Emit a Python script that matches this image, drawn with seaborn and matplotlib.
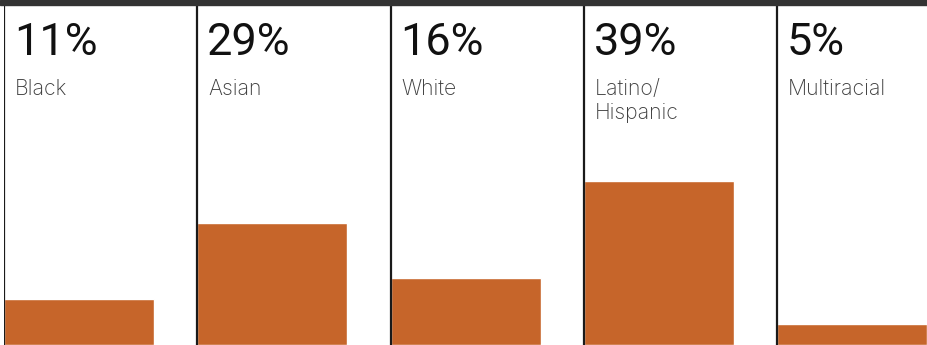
import matplotlib
matplotlib.use("Agg")
import matplotlib.pyplot as plt
import matplotlib.transforms as mtransforms
from matplotlib.patches import Rectangle
import seaborn as sns
import pandas as pd

# ---- data ----
categories = ["Black", "Asian", "White", "Latino/\nHispanic", "Multiracial"]
shares = [11, 29, 16, 39, 5]
value_labels = ["11%", "29%", "16%", "39%", "5%"]

sns.set_theme(style="white")
plt.rcParams["font.family"] = ["Roboto", "DejaVu Sans"]

W, H, DPI = 928, 345, 100
fig = plt.figure(figsize=(W / DPI, H / DPI), dpi=DPI)
fig.patch.set_facecolor("white")

# layout in pixels
left_px, top_px = 4, 5
panel_px = 193.25
bar_px = 150
ax = fig.add_axes([left_px / W, 0, (W - left_px) / W, (H - top_px) / H])

df = pd.DataFrame({"cat": categories, "share": shares})
bar_w = bar_px / panel_px
sns.barplot(data=df, x="cat", y="share", color="#C6652A", saturation=1,
            width=bar_w, ax=ax, order=categories)

x0 = -bar_w / 2
ax.set_xlim(x0, x0 + (W - left_px) / panel_px)
ax.set_ylim(0, (H - top_px) / 4.2)
ax.set_axis_off()

# panel dividers
for i in range(len(categories)):
    ax.axvline(i + x0, color="#1a1a1a", lw=1.6, zorder=5)

# top rule
fig.patches.append(Rectangle((0, (H - top_px) / H), 1, top_px / H,
                             transform=fig.transFigure, color="#333333",
                             zorder=10))

trans = mtransforms.blended_transform_factory(ax.transData, fig.transFigure)
off = 10 / panel_px
for i, (cat, lab) in enumerate(zip(categories, value_labels)):
    ax.text(i + x0 + off, (H - 55) / H, lab, transform=trans,
            fontsize=32.4, color="#111111", va="baseline", ha="left")
    ax.text(i + x0 + off + 1 / panel_px, (H - 79) / H, cat, transform=trans,
            fontsize=15.3, color="#3d3d3d", va="top", ha="left",
            family=["Inter", "DejaVu Sans"], fontweight="light",
            linespacing=1.25)

fig.savefig("out.png", dpi=DPI)
